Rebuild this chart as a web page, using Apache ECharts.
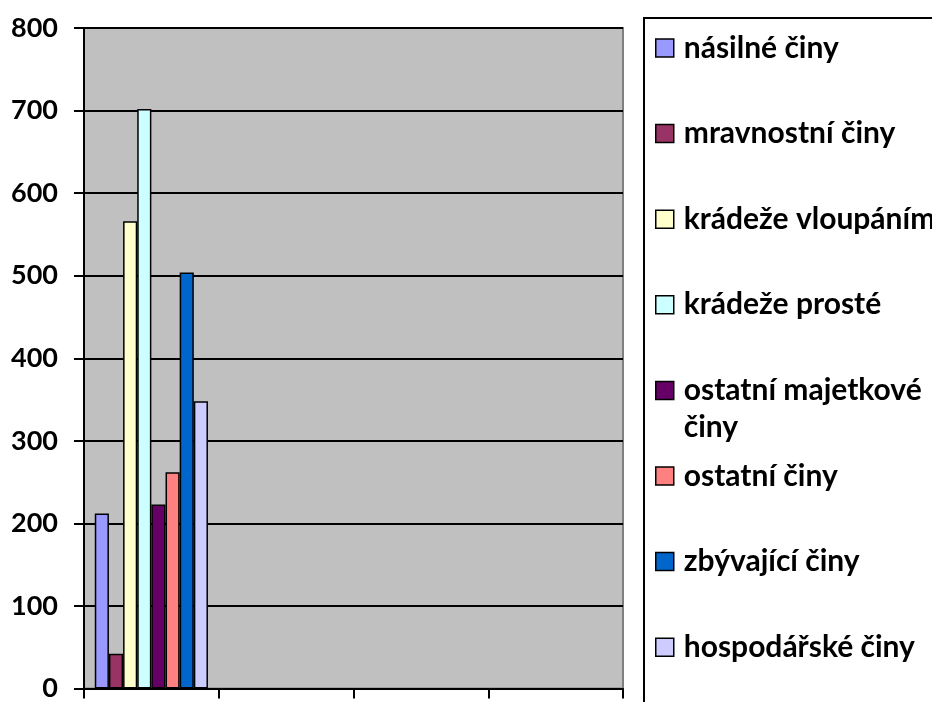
<!DOCTYPE html>
<html>
<head>
<meta charset="utf-8">
<script src="https://cdn.jsdelivr.net/npm/echarts@6/dist/echarts.min.js"></script>
<style>
  html, body { margin: 0; padding: 0; background: #fff; }
  #chart { width: 932px; height: 702px; }
</style>
</head>
<body>
<div id="chart"></div>
<script>
// kategorie na ose x (popisky jsou v originále oříznuté)
const categories = ["1", "2", "3", "4"];
const seriesNames = [
  "násilné činy",
  "mravnostní činy",
  "krádeže vloupáním",
  "krádeže prosté",
  "ostatní majetkové činy",
  "ostatní činy",
  "zbývající činy",
  "hospodářské činy"
];
// hodnoty jen pro první kategorii
const values = [212, 42, 566, 702, 223, 262, 504, 348];
const colors = ["#9999FF", "#993366", "#FFFFCC", "#CCFFFF", "#660066", "#FF8080", "#0066CC", "#CCCCFF"];
const yTicks = { min: 0, max: 800, interval: 100 };

const font = "Lato";
const lineH = 37;

const chart = echarts.init(document.getElementById("chart"));

// jedna legenda na položku, aby zalomená položka neposouvala ostatní
const legends = seriesNames.map((name, i) => {
  const wrapped = name === "ostatní majetkové činy";
  return {
    orient: "vertical",
    left: 655,
    top: 48 + i * 85.6 - lineH / 2 - (wrapped ? lineH : 0),
    padding: 0,
    data: [name],
    icon: "rect",
    itemWidth: 18,
    itemHeight: 18,
    itemStyle: { borderColor: "#000", borderWidth: 1.5 },
    // prázdný první řádek: první řádek textu pak stojí u ikonky
    formatter: (n) => (n === "ostatní majetkové činy" ? "\nostatní majetkové\nčiny" : n),
    textStyle: {
      fontFamily: font,
      fontWeight: "bold",
      fontSize: 30,
      lineHeight: lineH,
      color: "#000",
      padding: [0, 0, 0, 5]
    },
    selectedMode: false
  };
});

const option = {
  animation: false,
  backgroundColor: "#fff",
  color: colors,
  grid: {
    left: 84,
    right: 309,
    top: 28,
    bottom: 9.5,
    show: true,
    backgroundColor: "#C0C0C0",
    borderColor: "#808080",
    borderWidth: 2
  },
  graphic: [
    {
      type: "rect",
      shape: { x: 644, y: 18, width: 400, height: 800 },
      style: { fill: "transparent", stroke: "#000", lineWidth: 2 },
      silent: true
    }
  ],
  legend: legends,
  xAxis: {
    type: "category",
    data: categories,
    boundaryGap: true,
    axisLine: { lineStyle: { color: "#000", width: 2 } },
    axisTick: { show: true, length: 10, lineStyle: { color: "#000", width: 2 } },
    axisLabel: { show: false },
    splitLine: { show: false }
  },
  yAxis: {
    type: "value",
    min: yTicks.min,
    max: yTicks.max,
    interval: yTicks.interval,
    axisLine: { show: true, lineStyle: { color: "#000", width: 2 } },
    axisTick: { show: true, length: 10, lineStyle: { color: "#000", width: 2 } },
    axisLabel: {
      margin: 26,
      color: "#000",
      fontFamily: font,
      fontWeight: "bold",
      fontSize: 27
    },
    splitLine: { show: true, lineStyle: { color: "#000", width: 2 } }
  },
  series: seriesNames.map((name, i) => ({
    name: name,
    type: "bar",
    data: [values[i]],
    barGap: "0%",
    barCategoryGap: "16%",
    itemStyle: { color: colors[i], borderColor: "#000", borderWidth: 1.5 }
  }))
};

chart.setOption(option);
</script>
</body>
</html>
